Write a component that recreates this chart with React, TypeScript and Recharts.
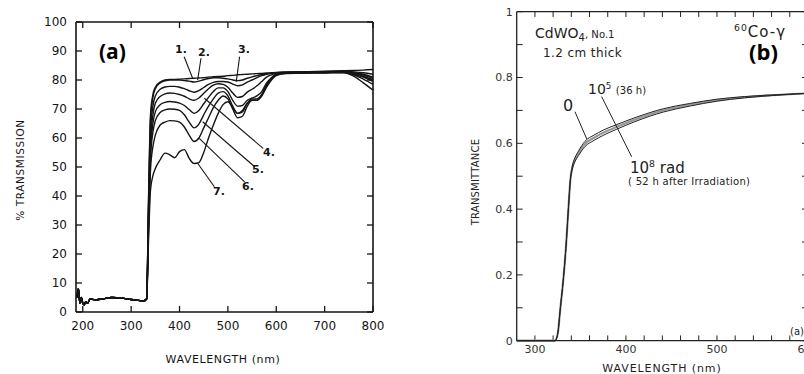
import React from "react";
import { LineChart, Line, XAxis, YAxis, ReferenceLine } from "recharts";

// ---------- panel (a): % transmission of seven samples ----------
const floorWl = [188, 191, 194, 197, 200, 203, 206, 210, 215, 225, 240, 260, 280, 300, 315, 325, 332];
const floorT = [5, 8, 3, 5, 3, 2.5, 3.5, 3, 4.5, 4.2, 4.5, 5, 4.8, 4.3, 4, 3.8, 4.5];

const visWl = [336, 340, 345, 350, 360, 370, 380, 390, 400, 410, 420, 430, 440, 450, 460, 470, 480, 490, 500, 510, 520, 530, 540, 550, 560, 570, 580, 590, 600, 620, 650, 700, 740, 760, 780, 800];

const curve1 = [40, 68, 75, 77.5, 79.3, 80, 80.2, 80.2, 80.3, 80.4, 80.5, 80.6, 80.7, 80.8, 81, 81.1, 81.2, 81.3, 81.5, 81.6, 81.8, 81.9, 82, 82.1, 82.2, 82.3, 82.4, 82.5, 82.6, 82.7, 82.8, 83, 83.2, 83.3, 83.4, 83.6];
const curve2 = [38, 66, 74, 77, 79, 79.7, 80, 80, 80, 79.8, 79.6, 79.3, 79.6, 80.1, 80.5, 80.8, 80.8, 80.6, 80.4, 80, 79.8, 80, 80.6, 81.1, 81.5, 81.9, 82.1, 82.3, 82.5, 82.7, 82.8, 82.9, 83, 82.8, 82.5, 82];
const curve3 = [36, 62, 71, 74.5, 76.8, 77.6, 77.8, 77.8, 77.5, 77, 76.3, 75.8, 76.3, 77.4, 78.5, 79.2, 79.5, 79.5, 79.3, 78.6, 78, 78.3, 79.3, 80, 80.8, 81.5, 82, 82.3, 82.5, 82.6, 82.7, 82.8, 83, 82.6, 82, 81];
const curve4 = [34, 58, 68, 72, 74.3, 75.2, 75.5, 75.4, 75, 74.4, 73.5, 73, 73.8, 75.4, 77, 78.2, 78.7, 78.5, 77.5, 75.5, 74, 74.3, 75.8, 76.8, 78, 79.5, 81, 81.8, 82.4, 82.6, 82.7, 82.8, 82.9, 82.4, 81.7, 80.5];
const curve5 = [32, 55, 65, 69, 71.5, 72.3, 72.6, 72.4, 72, 71.2, 69.8, 68.5, 69.5, 71.8, 74, 76, 77.3, 77.3, 76, 73, 71, 71.2, 73, 73.8, 74.5, 76, 79, 80.8, 82.2, 82.5, 82.6, 82.7, 82.8, 82.2, 81.3, 80];
const curve6 = [30, 53, 62, 66, 68.8, 69.7, 70, 69.9, 69.5, 68, 65.5, 63.5, 64.8, 68, 71, 73.5, 75.5, 76, 74.5, 71, 68.5, 69, 72, 73.5, 73.5, 75, 78.5, 80.5, 82, 82.4, 82.5, 82.6, 82.7, 82, 81, 79.5];
const curve7 = [28, 49, 57, 61, 64.5, 65.5, 66, 65.9, 65.5, 63.8, 61, 58.8, 60, 63.5, 67, 70.5, 73, 74.5, 73.5, 70, 67, 67.5, 71, 73, 73, 74.5, 78, 80.3, 81.8, 82.3, 82.4, 82.5, 82.6, 81.8, 80.3, 78.5];
const curve8 = [25, 42, 47, 49.5, 52.5, 54.8, 54.2, 53.2, 55.3, 56, 53, 51.2, 51.5, 55, 60, 64.5, 68.5, 71.5, 72.5, 70.5, 68.5, 69.5, 72, 73, 73, 74.5, 77.5, 80, 81.5, 82.2, 82.3, 82.4, 82.5, 81.3, 79, 76.5];

const curvesA = [curve1, curve2, curve3, curve4, curve5, curve6, curve7, curve8];

const ticksAX = [200, 300, 400, 500, 600, 700, 800];
const ticksAY = [0, 10, 20, 30, 40, 50, 60, 70, 80, 90, 100];

// leader lines from the numbers to the curves: [x1, y1, x2, y2]
const leadersA = [
  [409.6, 88, 427.1, 80.6],
  [444.4, 87.5, 437.5, 80],
  [524.2, 88, 517.3, 79.4],
  [572.9, 56.4, 451.3, 73.7],
  [555.4, 50.1, 447.9, 65.6],
  [534.6, 44.9, 440.8, 59.9],
  [472, 43.2, 437.5, 51.3],
];

const rowsA = [
  ...floorWl.map((wl, i) => {
    const r: any = { wl };
    curvesA.forEach((_, k) => (r[`c${k + 1}`] = floorT[i]));
    return r;
  }),
  ...visWl.map((wl, i) => {
    const r: any = { wl };
    curvesA.forEach((c, k) => (r[`c${k + 1}`] = c[i]));
    return r;
  }),
];

// ---------- panel (b): CdWO4 transmittance after 60Co-gamma ----------
const wlB = [280, 300, 322, 325, 328, 331, 334, 337, 339, 341, 344, 348, 355, 365, 375, 390, 410, 441, 470, 500, 530, 560, 600];
const dose0 = [0, 0, 0, 0.02, 0.1, 0.18, 0.28, 0.41, 0.493, 0.53, 0.556, 0.577, 0.606, 0.625, 0.64, 0.657, 0.678, 0.705, 0.721, 0.734, 0.742, 0.747, 0.752];
const dose1e5 = [0, 0, 0, 0.02, 0.1, 0.18, 0.28, 0.41, 0.49, 0.525, 0.55, 0.57, 0.598, 0.617, 0.632, 0.65, 0.672, 0.7, 0.717, 0.731, 0.74, 0.746, 0.752];
const dose1e8 = [0, 0, 0, 0.02, 0.1, 0.18, 0.28, 0.41, 0.487, 0.52, 0.544, 0.563, 0.59, 0.609, 0.624, 0.643, 0.666, 0.695, 0.713, 0.728, 0.738, 0.745, 0.752];

const ticksBX = [300, 320, 340, 360, 380, 400, 420, 440, 460, 480, 500, 520, 540, 560, 580, 600];
const ticksBY = [0, 0.1, 0.2, 0.3, 0.4, 0.5, 0.6, 0.7, 0.8, 0.9, 1];

const rowsB = wlB.map((wl, i) => ({ wl, d0: dose0[i], d5: dose1e5[i], d8: dose1e8[i] }));

const INK = "#151515";
const fontA = { fill: INK, fontSize: 12, fontFamily: "DejaVu Sans" };
const fontB = { fill: "#333", fontSize: 11, fontFamily: "DejaVu Sans" };

const fmtBX = (v: number) => (v % 100 === 0 ? String(v) : "");
const fmtBY = (v: number) => {
  const n = Math.round(v * 10);
  if (n % 2) return "";
  return n === 0 ? "0" : n === 10 ? "1" : (n / 10).toFixed(1);
};

// inward tick marks drawn as short reference segments along the frame
function frameTicks(xt: number[], yt: number[], x0: number, x1: number, y0: number, y1: number, dx: number, dy: number, stroke: string, sw: number) {
  const segs: any[] = [];
  xt.forEach((t) => {
    segs.push([{ x: t, y: y0 }, { x: t, y: y0 + dy }]);
    segs.push([{ x: t, y: y1 }, { x: t, y: y1 - dy }]);
  });
  yt.forEach((t) => {
    segs.push([{ x: x0, y: t }, { x: x0 + dx, y: t }]);
    segs.push([{ x: x1, y: t }, { x: x1 - dx, y: t }]);
  });
  return segs.map((s, i) => <ReferenceLine key={`tk${i}`} segment={s} stroke={stroke} strokeWidth={sw} ifOverflow="visible" />);
}

function Txt({ x, y, size = 11, weight = 400, font = "DejaVu Sans", color = INK, spacing = 0, children }: any) {
  return (
    <div style={{ position: "absolute", left: x, top: y, fontSize: size, fontWeight: weight, fontFamily: font, lineHeight: 1, whiteSpace: "nowrap", color, letterSpacing: spacing }}>
      {children}
    </div>
  );
}

function Centered({ x, y, size = 11, rotate = false, color = INK, spacing = 0, children }: any) {
  return (
    <div
      style={{
        position: "absolute",
        left: x,
        top: y,
        fontSize: size,
        fontFamily: "DejaVu Sans",
        lineHeight: 1,
        whiteSpace: "nowrap",
        color,
        letterSpacing: spacing,
        transform: `translate(-50%,-50%)${rotate ? " rotate(-90deg)" : ""}`,
      }}
    >
      {children}
    </div>
  );
}

const sup = { fontSize: "0.62em", verticalAlign: "0.6em" };

function PanelA() {
  const axisA = { stroke: INK, strokeWidth: 1.6 };
  return (
    <div style={{ position: "absolute", left: 0, top: 0 }}>
      <LineChart width={400} height={374} data={rowsA} margin={{ top: 22, right: 27, bottom: 0, left: 0 }}>
        <XAxis dataKey="wl" type="number" domain={[186, 800]} allowDataOverflow ticks={ticksAX} interval={0} height={62}
          tick={fontA} tickSize={0} tickMargin={9} axisLine={axisA} tickLine={false} />
        <YAxis type="number" domain={[0, 100]} ticks={ticksAY} interval={0} width={76}
          tick={fontA} tickSize={0} tickMargin={9} axisLine={axisA} tickLine={false} />
        <ReferenceLine y={100} stroke={INK} strokeWidth={1.6} ifOverflow="visible" />
        <ReferenceLine x={800} stroke={INK} strokeWidth={1.6} ifOverflow="visible" />
        {frameTicks(ticksAX, ticksAY, 186, 800, 0, 100, 12.5, 2.1, INK, 1.3)}
        {curvesA.map((_, k) => (
          <Line key={k} dataKey={`c${k + 1}`} type="monotone" stroke={INK} strokeWidth={1.4} dot={false} isAnimationActive={false} />
        ))}
        {leadersA.map((s, i) => (
          <ReferenceLine key={i} segment={[{ x: s[0], y: s[1] }, { x: s[2], y: s[3] }]} stroke={INK} strokeWidth={1.1} />
        ))}
      </LineChart>
      <Centered x={20} y={170} size={10.5} spacing={0.6} rotate>% TRANSMISSION</Centered>
      <Centered x={223} y={359} size={11} spacing={0.6}>WAVELENGTH (nm)</Centered>
      <Txt x={99} y={41} size={21} weight={700} font="Open Sans" color="#000">(a)</Txt>
      <Txt x={175} y={44} weight={700}>1.</Txt>
      <Txt x={198} y={47} weight={700}>2.</Txt>
      <Txt x={238} y={44} weight={700}>3.</Txt>
      <Txt x={263} y={147} weight={700}>4.</Txt>
      <Txt x={252} y={164} weight={700}>5.</Txt>
      <Txt x={242} y={181} weight={700}>6.</Txt>
      <Txt x={213} y={186} weight={700}>7.</Txt>
    </div>
  );
}

function PanelB() {
  const axisB = { stroke: "#222", strokeWidth: 1.3 };
  return (
    <div style={{ position: "absolute", left: 440, top: 0 }}>
      <LineChart width={380} height={374} data={rowsB} margin={{ top: 11.7, right: 12, bottom: 0, left: 0 }}>
        <XAxis dataKey="wl" type="number" domain={[280, 600]} allowDataOverflow ticks={ticksBX} interval={0} height={33.3}
          tick={fontB} tickSize={0} tickMargin={4} tickFormatter={fmtBX} axisLine={axisB} tickLine={false} />
        <YAxis type="number" domain={[0, 1]} ticks={ticksBY} interval={0} width={76.7}
          tick={fontB} tickSize={0} tickMargin={4} tickFormatter={fmtBY} axisLine={axisB} tickLine={false} />
        <ReferenceLine y={1} stroke="#222" strokeWidth={1.3} ifOverflow="visible" />
        <ReferenceLine x={600} stroke="#222" strokeWidth={1.3} ifOverflow="visible" />
        {frameTicks(ticksBX, ticksBY, 280, 600, 0, 1, 6.6, 0.016, "#222", 1)}
        <Line dataKey="d5" type="monotone" stroke="#999" strokeWidth={2.2} dot={false} isAnimationActive={false} />
        <Line dataKey="d0" type="monotone" stroke="#222" strokeWidth={1} dot={false} isAnimationActive={false} />
        <Line dataKey="d8" type="monotone" stroke="#222" strokeWidth={1} dot={false} isAnimationActive={false} />
        <ReferenceLine segment={[{ x: 344, y: 0.696 }, { x: 357, y: 0.613 }]} stroke="#222" />
        <ReferenceLine segment={[{ x: 373.3, y: 0.742 }, { x: 406.3, y: 0.559 }]} stroke="#222" />
      </LineChart>
      <Centered x={36} y={182} size={10} color="#222" spacing={0.2} rotate>TRANSMITTANCE</Centered>
      <Centered x={222} y={368} size={11} color="#222" spacing={0.9}>WAVELENGTH (nm)</Centered>
      <Txt x={95} y={26} size={14} color="#222">
        CdWO<span style={{ fontSize: "0.72em", verticalAlign: "-0.25em" }}>4</span>
        <span style={{ fontSize: "0.72em" }}>, No.1</span>
      </Txt>
      <Txt x={103} y={47} size={12} color="#222" spacing={0.4}>1.2 cm thick</Txt>
      <Txt x={294} y={23} size={15} color="#222" spacing={1}><span style={sup}>60</span>Co-γ</Txt>
      <Txt x={309} y={40} size={22} weight={700} font="Open Sans" color="#000">(b)</Txt>
      <Txt x={148} y={82} size={14} color="#222">10<span style={sup}>5</span> <span style={{ fontSize: "0.72em" }}>(36 h)</span></Txt>
      <Txt x={123} y={98} size={16} color="#222">0</Txt>
      <Txt x={190} y={159} size={15} color="#222">10<span style={sup}>8</span> rad</Txt>
      <Txt x={188} y={177} size={10} color="#222" spacing={0.3}>( 52 h after Irradiation)</Txt>
      <Txt x={350} y={327} size={10} color="#222">(a)</Txt>
    </div>
  );
}

export default function App() {
  return (
    <div style={{ position: "absolute", left: 0, top: 0, width: 804, height: 374, overflow: "hidden", background: "#fff" }}>
      <PanelA />
      <PanelB />
    </div>
  );
}
